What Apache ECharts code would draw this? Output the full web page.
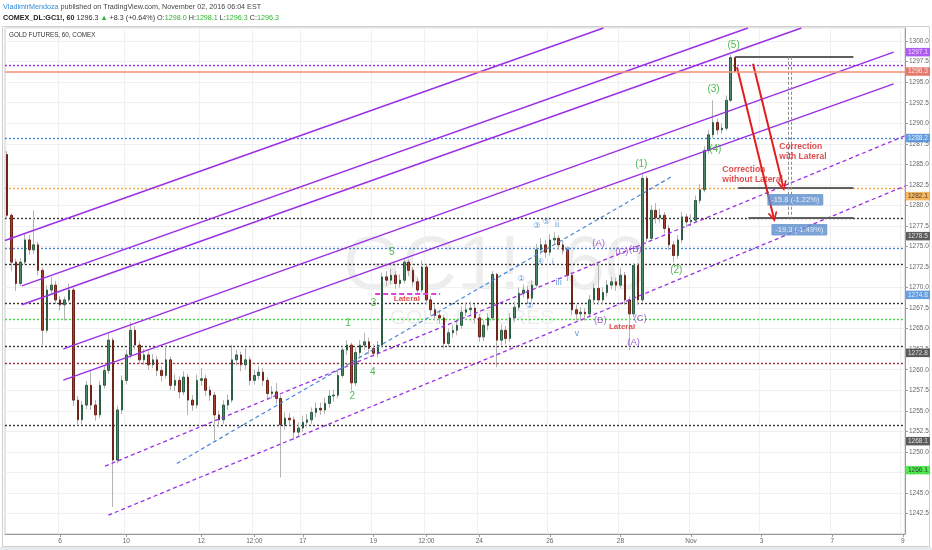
<!DOCTYPE html>
<html><head><meta charset="utf-8">
<script src="https://cdn.jsdelivr.net/npm/echarts/dist/echarts.min.js"></script>
<style>html,body{margin:0;padding:0;background:#fff}#c{width:932px;height:550px}</style>
</head><body><div id="c"></div>
<script>
// ---------- time axis ----------
const totalBars = 204;
const tickLabels = ['6','10','12','12:00','17','19','12:00','24','26','28','Nov','3','7','9'];
const tickIndex  = [12,27,44,56,67,83,95,107,123,139,155,171,187,203];

// ---------- hourly OHLC (GC1!, 60) ----------
const opens = [1286.2,1278.8,1273.1,1270.5,1273.1,1275.8,1274.6,1275.2,1272.1,1264.8,1269.7,1270.3,1268.5,1267.9,1268.5,1269.7,1256.3,1253.9,1255.7,1258.1,1255.7,1254.5,1258.1,1259.9,1263.6,1249.0,1255.1,1258.7,1261.8,1264.8,1263.0,1261.2,1261.8,1260.6,1261.2,1259.9,1259.3,1261.2,1258.1,1258.7,1257.3,1259.1,1256.3,1255.7,1258.7,1258.9,1257.5,1256.9,1254.5,1253.9,1255.7,1256.3,1261.2,1261.8,1260.6,1261.2,1258.7,1259.3,1259.7,1258.7,1257.1,1257.3,1256.5,1253.3,1254.1,1253.9,1252.4,1252.9,1253.6,1253.9,1254.8,1255.3,1255.1,1255.9,1256.8,1256.9,1259.3,1262.4,1263.0,1258.4,1262.1,1263.0,1263.4,1262.6,1262.0,1263.0,1271.3,1270.9,1271.5,1270.5,1270.9,1273.1,1272.1,1270.7,1269.7,1272.5,1268.5,1267.3,1266.6,1266.3,1263.2,1264.5,1264.8,1265.4,1267.0,1267.3,1267.5,1266.3,1264.0,1265.4,1266.3,1271.6,1263.6,1264.8,1263.8,1266.3,1267.6,1269.3,1269.7,1268.7,1270.3,1274.6,1275.2,1274.3,1275.8,1276.0,1275.2,1274.6,1271.5,1267.3,1266.8,1267.0,1266.8,1268.5,1269.9,1268.5,1269.4,1270.3,1270.7,1270.3,1271.5,1268.5,1266.8,1272.7,1268.5,1283.3,1276.0,1279.4,1278.5,1278.8,1277.2,1275.2,1273.9,1275.8,1278.6,1278.0,1278.2,1280.6,1281.9,1286.7,1288.6,1290.1,1289.2,1289.4,1292.8,1298.0];
const closes = [1278.8,1273.1,1270.5,1273.1,1275.8,1274.6,1275.2,1272.1,1264.8,1269.7,1270.3,1268.5,1267.9,1268.5,1269.7,1256.3,1253.9,1255.7,1258.1,1255.7,1254.5,1258.1,1259.9,1263.6,1249.0,1255.1,1258.7,1261.8,1264.8,1263.0,1261.2,1261.8,1260.6,1261.2,1259.9,1259.3,1261.2,1258.1,1258.7,1257.3,1259.1,1256.3,1255.7,1258.7,1258.9,1257.5,1256.9,1254.5,1253.9,1255.7,1256.3,1261.2,1261.8,1260.6,1261.2,1258.7,1259.3,1259.7,1258.7,1257.1,1257.3,1256.5,1253.3,1254.1,1253.9,1252.4,1252.9,1253.6,1253.9,1254.8,1255.3,1255.1,1255.9,1256.8,1256.9,1259.3,1262.4,1263.0,1258.4,1262.1,1263.0,1263.4,1262.6,1262.0,1263.0,1271.3,1270.9,1271.5,1270.5,1270.9,1273.1,1272.1,1270.7,1269.7,1272.5,1268.5,1267.3,1266.6,1266.3,1263.2,1264.5,1264.8,1265.4,1267.0,1267.3,1267.5,1266.3,1264.0,1265.4,1266.3,1271.6,1263.6,1264.8,1263.8,1266.3,1267.6,1269.3,1269.7,1268.7,1270.3,1274.6,1275.2,1274.3,1275.8,1276.0,1275.2,1274.6,1271.5,1267.3,1266.8,1267.0,1266.8,1268.5,1269.9,1268.5,1269.4,1270.3,1270.7,1270.3,1271.5,1268.5,1266.8,1272.7,1268.5,1283.3,1276.0,1279.4,1278.5,1278.8,1277.2,1275.2,1273.9,1275.8,1278.6,1278.0,1278.2,1280.6,1281.9,1286.7,1288.6,1290.1,1289.2,1289.4,1292.8,1298.0,1296.3];
const lows = [1278.4,1272.0,1269.6,1270.2,1272.8,1274.0,1274.1,1271.5,1263.0,1264.5,1269.2,1268.0,1267.2,1266.0,1268.2,1255.6,1253.2,1253.3,1255.2,1255.1,1253.8,1254.1,1257.7,1259.5,1243.3,1248.6,1254.6,1258.2,1261.4,1262.5,1260.7,1260.6,1260.0,1260.2,1259.2,1258.6,1258.9,1257.5,1257.4,1256.5,1256.9,1254.5,1255.0,1255.3,1258.0,1256.8,1256.2,1251.4,1253.0,1253.4,1255.1,1256.0,1260.5,1259.8,1260.0,1258.1,1258.2,1258.8,1258.0,1256.4,1256.5,1255.8,1246.9,1252.7,1253.2,1251.4,1251.9,1252.4,1253.0,1253.4,1254.2,1254.5,1254.6,1255.4,1256.1,1256.5,1259.0,1261.8,1257.5,1258.0,1261.6,1262.4,1261.9,1261.6,1261.5,1262.7,1270.2,1270.4,1269.8,1270.0,1270.5,1271.4,1270.1,1269.2,1269.4,1267.9,1266.6,1266.0,1265.6,1262.6,1262.8,1263.9,1264.2,1265.0,1266.5,1266.7,1265.7,1263.4,1263.5,1264.8,1266.0,1260.3,1263.0,1263.1,1263.4,1265.8,1267.2,1268.8,1268.0,1268.3,1270.0,1274.0,1273.6,1273.9,1275.2,1274.6,1274.0,1270.8,1266.6,1266.0,1266.1,1266.0,1266.4,1268.0,1267.9,1268.0,1268.9,1269.8,1269.6,1269.9,1267.9,1262.4,1266.4,1267.9,1268.2,1275.6,1275.7,1277.8,1277.9,1276.6,1274.6,1273.1,1273.5,1275.4,1277.3,1277.4,1277.9,1280.2,1281.6,1286.3,1288.2,1288.6,1288.7,1289.1,1292.6,1296.3];
const highs = [1286.6,1279.0,1273.5,1273.6,1276.6,1276.4,1279.4,1275.6,1272.4,1270.3,1271.3,1270.8,1269.0,1268.9,1270.5,1270.0,1256.8,1256.2,1258.6,1259.9,1256.3,1258.6,1260.5,1264.5,1263.9,1255.6,1259.3,1262.4,1265.8,1265.3,1263.5,1262.5,1262.3,1261.9,1261.7,1260.4,1263.0,1261.6,1259.4,1259.2,1259.8,1259.5,1256.9,1259.4,1260.2,1259.4,1258.0,1257.3,1255.0,1256.3,1257.0,1263.0,1262.4,1262.2,1262.6,1261.6,1260.0,1260.4,1260.2,1259.1,1258.0,1258.4,1256.9,1254.8,1254.7,1254.3,1253.6,1254.4,1254.6,1255.4,1256.0,1256.0,1256.6,1257.5,1257.6,1259.9,1263.0,1263.6,1263.3,1262.7,1263.6,1264.5,1263.9,1263.1,1263.5,1271.8,1272.0,1272.3,1272.0,1271.6,1273.5,1273.4,1272.5,1271.2,1273.3,1272.8,1269.0,1267.9,1267.2,1266.7,1265.0,1265.5,1266.1,1267.7,1268.1,1268.3,1268.0,1266.8,1266.0,1266.9,1272.0,1271.8,1265.5,1265.3,1266.9,1268.3,1270.0,1270.4,1270.2,1270.9,1275.3,1276.0,1275.8,1276.5,1276.7,1276.4,1275.8,1275.0,1271.9,1267.9,1267.6,1267.5,1269.1,1270.5,1273.1,1270.0,1270.9,1271.3,1271.2,1272.4,1271.9,1268.9,1273.0,1273.0,1283.8,1283.6,1280.0,1280.3,1279.6,1279.2,1277.6,1275.7,1276.4,1279.2,1279.0,1278.9,1281.2,1282.6,1287.2,1289.2,1292.8,1290.6,1290.0,1293.4,1298.3,1298.1];

// ---------- horizontal levels ----------
const levelValues = [1297.1,1296.3,1288.2,1282.1,1278.5,1274.8,1272.8,1268.1,1266.1,1262.9,1260.8,1253.3];
const levelColors = ['#9b30e6','#f4907a','#4a86d8','#f5a742','#333333','#4a86d8','#333333','#333333','#3ddc3d','#333333','#9c2b3c','#333333'];
const levelDash   = [[2,2],'solid',[2,2],[2,2],[2,2],[2,2],[2,2],[2,2],[2,2],[2,2],[2,2],[2,2]];

// ---------- price-scale tags ----------
const tagTexts  = ['1297.1','1296.3','1288.2','1282.1','1278.5','1274.8','1272.8','1268.1','1266.1'];
const tagPrices = [1298.66,1296.3,1288.2,1281.13,1276.26,1269.11,1262.05,1251.3,1247.77];
const tagBg     = ['#9b30f0','#e0574a','#3d85d8','#f2a23a','#333333','#3d85d8','#333333','#333333','#2ee62e'];
const tagFg     = ['#fff','#fff','#fff','#222','#fff','#fff','#fff','#fff','#222'];

// ---------- drawings (bar index, price) ----------
const channelSolid = [
  [[-0.5,1275.74],[135.15,1301.6]],
  [[3.29,1270.21],[167.89,1301.6]],
  [[3.29,1267.90],[180.02,1301.6]],
  [[12.72,1262.54],[200.93,1298.66]],
  [[12.72,1258.73],[200.93,1294.80]]
];
const channelDashedPurple = [
  [[22.18,1248.26],[203.5,1288.48]],
  [[22.93,1242.29],[203.5,1282.36]]
];
const channelDashedBlue = [[[38.44,1248.59],[150.68,1283.53]]];
const lateralLine = [[[83.4,1269.28],[98.14,1269.28]]];
const targetLines = [
  [[165.0,1298.1],[191.8,1298.1]],
  [[165.7,1282.1],[191.8,1282.1]],
  [[168.0,1278.5],[191.8,1278.5]]
];
const rangeVerticals = [
  [[177.1,1298.1],[177.1,1278.5]],
  [[177.8,1298.1],[177.8,1278.5]]
];
const redArrows = [
  [[165.42,1296.83],[173.72,1278.57]],
  [[169.05,1297.24],[175.85,1282.35]]
];

// ---------- annotation texts ----------
const greenTexts = ['(5)','(3)','(4)','(1)','(2)','1','2','3','4','5'];
const greenX = [164.65,160.11,160.5,143.72,151.66,77.28,78.19,83.02,82.88,87.19];
const greenY = [1299.48,1294.19,1286.89,1285.06,1272.12,1265.67,1256.78,1268.07,1259.74,1274.35];
const purpleTexts = ['(A)','(B)','(C)','(B)','(C)','(A)'];
const purpleX = [134.04,134.42,139.34,142.38,143.49,141.97];
const purpleY = [1275.44,1265.95,1274.35,1274.64,1266.24,1263.27];
const blueTexts = ['①','②','③','④','⑤','i','ii','iii','iv','v'];
const blueX = [116.51,118.39,120.07,120.82,122.18,123.7,124.6,124.97,126.64,129.14];
const blueY = [1271.11,1267.74,1277.51,1273.13,1278.0,1272.94,1277.6,1270.57,1274.56,1264.41];
const lateralTexts = ['Lateral','Lateral'];
const lateralX = [90.59,139.36];
const lateralY = [1268.68,1265.22];
const correctionTexts = ['Correction\nwith Lateral','Correction\nwithout Lateral'];
const correctionX = [175.0,162.09];
const correctionY = [1286.49,1283.69];
const rangeTexts = ['-15.8 (-1.22%)','-19.3 (-1.49%)'];
const rangeX = [178.64,179.55];
const rangeY = [1280.70,1277.05];

// ================= build =================
const FONT = '"Liberation Sans", Arial, "Noto Sans CJK SC", sans-serif';
const isTick = (i) => tickIndex.indexOf(i) >= 0;
const categories = Array.from({length: totalBars}, (_, i) => String(i));
const ohlc = opens.map((o, i) => [o, closes[i], lows[i], highs[i]]);
const bodies = opens.map((o, i) => [o, closes[i], Math.min(o, closes[i]), Math.max(o, closes[i])]);

function segSeries(list, lineStyle, z, extra) {
  return Object.assign({
    type: 'lines', coordinateSystem: 'cartesian2d', xAxisIndex: 1, yAxisIndex: 0,
    silent: true, z: z, lineStyle: Object.assign({opacity: 1, curveness: 0}, lineStyle), symbol: 'none',
    data: list.map(c => ({coords: c}))
  }, extra || {});
}
function textSeries(texts, xs, ys, label, z) {
  return {
    type: 'scatter', xAxisIndex: 1, yAxisIndex: 0, symbolSize: 0, silent: true, clip: false, z: z || 6,
    data: texts.map((t, i) => ({name: t, value: [xs[i], ys[i]]})),
    label: Object.assign({show: true, position: 'inside', formatter: '{b}', fontFamily: FONT}, label)
  };
}

const chevron = 'path://M5,0 L10,10 L8.2,10 L5,3.6 L1.8,10 L0,10 Z';

const levelSeries = levelValues.map((v, i) => segSeries([[[-0.5, v], [203.5, v]]],
  {color: levelColors[i], width: levelDash[i] === 'solid' ? 1.5 : 1.4, type: levelDash[i]},
  levelDash[i] === 'solid' ? 8 : 1));

const option = {
  animation: false,
  backgroundColor: '#ffffff',
  grid: {left: 5, right: 27, top: 28, bottom: 16, show: true, borderColor: '#c8c8c8', borderWidth: 1, containLabel: false, outerBoundsMode: 'none'},
  xAxis: [
    {
      type: 'category', data: categories, boundaryGap: true,
      axisLine: {onZero: false, lineStyle: {color: '#9a9a9a'}},
      axisTick: {show: true, length: 3, alignWithLabel: true, interval: isTick, lineStyle: {color: '#9a9a9a'}},
      axisLabel: {interval: isTick, fontSize: 6.5, color: '#666', margin: 4, fontFamily: FONT,
        formatter: (v, i) => { const k = tickIndex.indexOf(Number(v)); return k >= 0 ? tickLabels[k] : ''; }},
      splitLine: {show: true, interval: isTick, lineStyle: {color: '#f0f0f0'}}
    },
    {type: 'value', min: -0.5, max: 203.5, show: false, axisLine: {onZero: false}}
  ],
  yAxis: {
    type: 'value', position: 'right', min: 1240, max: 1301.6, interval: 2.5,
    axisLine: {show: true, onZero: false, lineStyle: {color: '#9a9a9a'}},
    axisTick: {show: true, length: 3, lineStyle: {color: '#9a9a9a'}},
    axisLabel: {fontSize: 6.5, color: '#666', margin: 4, fontFamily: FONT, showMinLabel: false, showMaxLabel: false,
      formatter: v => v.toFixed(1)},
    splitLine: {show: true, lineStyle: {color: '#f0f0f0'}}
  },
  graphic: [
    {type: 'text', left: 3, top: 3, z: 10, style: {
      text: '{a|VladimirMendoza}{b| published on TradingView.com, November 02, 2016 06:04 EST}',
      font: '7.2px ' + FONT,
      rich: {a: {fill: '#2f8ad8', fontSize: 7.2, fontFamily: FONT}, b: {fill: '#444', fontSize: 7.2, fontFamily: FONT}}}},
    {type: 'text', left: 3, top: 14, z: 10, style: {
      text: '{k|COMEX_DL:GC1!, 60} {d|1296.3 }{g|▲}{d| +8.3 (+0.64%) O:}{g|1298.0}{d| H:}{g|1298.1}{d| L:}{g|1296.3}{d| C:}{g|1296.3}',
      font: '7.2px ' + FONT,
      rich: {k: {fill: '#222', fontWeight: 'bold', fontSize: 7.2, fontFamily: FONT},
             d: {fill: '#333', fontSize: 7.2, fontFamily: FONT},
             g: {fill: '#2bb52b', fontSize: 7.2, fontFamily: FONT}}}},
    {type: 'text', left: 9, top: 32, z: 10, style: {text: 'GOLD FUTURES, 60, COMEX', fill: '#333', font: '6.3px ' + FONT}},
    {type: 'text', x: 495, y: 268, z: 0, style: {text: 'GC1!, 60', fill: 'rgba(0,0,0,0.07)', font: '76px ' + FONT, textAlign: 'center', textVerticalAlign: 'middle'}},
    {type: 'text', x: 472, y: 318, z: 0, style: {text: 'GOLD FUTURES', fill: 'rgba(0,0,0,0.07)', font: '21px ' + FONT, textAlign: 'center', textVerticalAlign: 'middle'}},
    {type: 'rect', z: 0, shape: {x: 2.5, y: 26.5, width: 927, height: 520}, style: {fill: 'none', stroke: '#cfcfcf', lineWidth: 1}},
    {type: 'rect', z: 0, shape: {x: 0, y: 547, width: 932, height: 3}, style: {fill: '#e6e9ee'}}
  ],
  series: levelSeries.concat([
    {
      type: 'candlestick', name: 'wick', data: ohlc, barWidth: 1, silent: true, z: 2,
      itemStyle: {color: '#b3b3b3', color0: '#b3b3b3', borderColor: '#b3b3b3', borderColor0: '#b3b3b3', borderWidth: 1}
    },
    {
      type: 'candlestick', name: 'GC1!', data: bodies, barWidth: 2, silent: true, z: 3,
      itemStyle: {color: '#4b8a68', color0: '#a8402c', borderColor: '#2c5e44', borderColor0: '#6e2418', borderWidth: 1}
    },
    segSeries(channelSolid, {color: '#9b30e6', width: 1.5, type: 'solid'}, 4),
    segSeries(channelDashedPurple, {color: '#9b30e6', width: 1.3, type: [4, 3]}, 4),
    segSeries(channelDashedBlue, {color: '#4a86d8', width: 1.2, type: [4, 3]}, 4),
    segSeries(lateralLine, {color: '#e040e0', width: 1.8, type: [5, 3]}, 4),
    segSeries(targetLines, {color: '#5f5f5f', width: 2, type: 'solid'}, 5),
    segSeries(rangeVerticals, {color: '#8a8a8a', width: 1, type: [3, 2]}, 5),
    segSeries(redArrows, {color: '#e31b1b', width: 2, type: 'solid'}, 7, {symbol: ['none', chevron], symbolSize: 10}),
    textSeries(greenTexts, greenX, greenY, {color: '#25a825', fontSize: 10}),
    textSeries(purpleTexts, purpleX, purpleY, {color: '#8a3fc0', fontSize: 9.5}),
    textSeries(blueTexts, blueX, blueY, {color: '#3f7fd6', fontSize: 8, fontFamily: '"DejaVu Sans", "Noto Sans CJK SC", sans-serif'}),
    textSeries(lateralTexts, lateralX, lateralY, {color: '#d42020', fontSize: 8, fontWeight: 'bold'}),
    textSeries(correctionTexts, correctionX, correctionY, {color: '#d42020', fontSize: 8.5, fontWeight: 'bold', position: 'right', distance: 0, align: 'left', lineHeight: 10}),
    textSeries(rangeTexts, rangeX, rangeY, {color: '#fff', fontSize: 7.5, backgroundColor: '#5b8ccc', padding: [2, 4], borderRadius: 1}, 8),
    {
      type: 'scatter', xAxisIndex: 1, yAxisIndex: 0, symbolSize: 0, silent: true, clip: false, z: 9,
      data: tagTexts.map((t, i) => ({name: t, value: [203.5, tagPrices[i]],
        label: {backgroundColor: tagBg[i], color: tagFg[i]}})),
      label: {show: true, position: 'right', distance: 1, formatter: '{b}', fontSize: 6.5, fontFamily: FONT, padding: [1, 2]}
    }
  ])
};

const chart = echarts.init(document.getElementById('c'), null, {renderer: 'canvas'});
chart.setOption(option);
</script>
</body></html>
